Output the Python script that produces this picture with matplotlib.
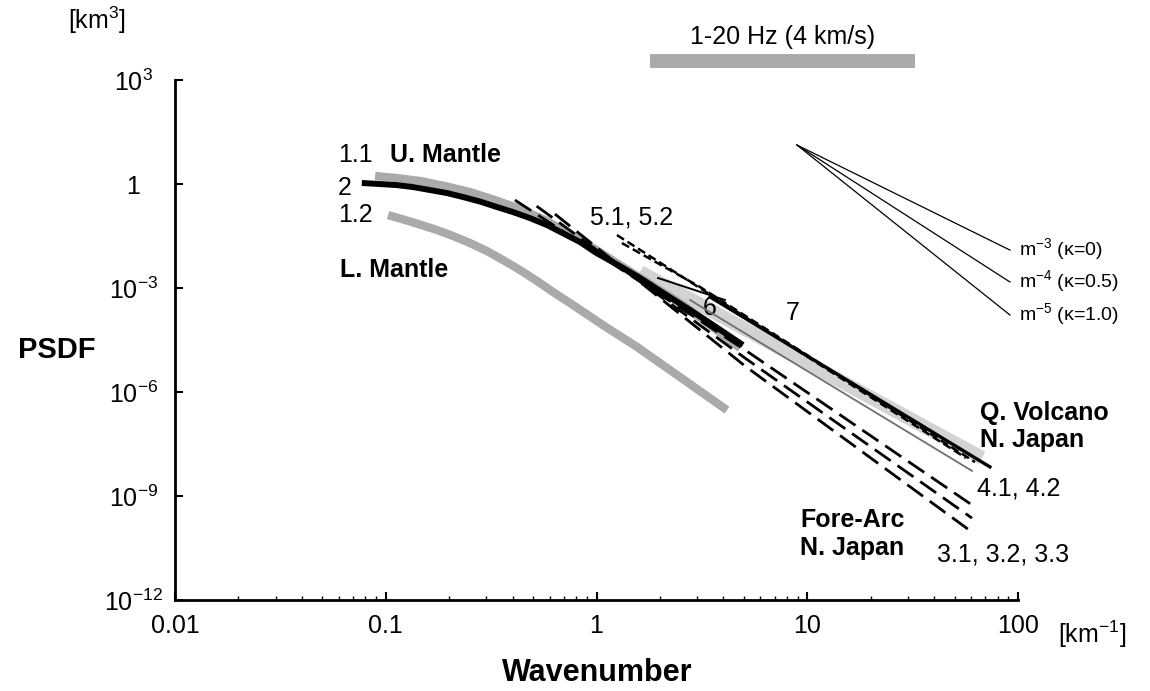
import numpy as np
import matplotlib.pyplot as plt
from matplotlib.ticker import LogLocator, NullLocator

plt.rcParams['font.family'] = ['Liberation Sans', 'DejaVu Sans']
plt.rcParams['mathtext.fontset'] = 'custom'
plt.rcParams['mathtext.rm'] = 'Liberation Sans'
plt.rcParams['mathtext.bf'] = 'Liberation Sans:bold'
plt.rcParams['lines.scale_dashes'] = False

# --- values (wavenumber km^-1, PSDF km^3) ---
# 1.1 upper mantle (gray)
k_11 = [0.089, 0.1131, 0.146, 0.191, 0.251, 0.330, 0.434, 0.570, 0.748, 0.984,
        1.29, 1.795, 2.49, 3.46, 4.80]
p_11 = [1.70, 1.486, 1.22, 0.873, 0.586, 0.344, 0.19, 0.0912, 0.036, 0.0133,
        4.6e-3, 1.30e-3, 3.7e-4, 8.55e-5, 1.85e-5]
# 1.2 lower mantle (gray)
k_12 = [0.1026, 0.1332, 0.175, 0.2085, 0.251, 0.302, 0.360, 0.4335, 0.522, 0.622,
        0.748, 1.07, 1.56, 2.49, 4.16]
p_12 = [0.127, 0.080, 0.047, 0.0316, 0.0198, 0.01164, 6.4e-3, 3.3e-3, 1.59e-3, 7.66e-4,
        3.7e-4, 8.6e-5, 1.98e-5, 2.7e-6, 3.0e-7]
# 2 (black thick)
k_2 = [0.077, 0.0939, 0.113, 0.1347, 0.162, 0.1953, 0.233, 0.280, 0.337, 0.4017, 0.483,
       0.582, 0.693, 0.835, 1.0, 1.265, 1.61, 2.11, 2.78, 3.69, 4.95]
p_2 = [1.07, 0.998, 0.93, 0.817, 0.67, 0.548, 0.42, 0.312, 0.216, 0.155, 0.104,
       0.0655, 0.038, 0.0212, 0.0102, 4.6e-3, 1.94e-3, 6.7e-4, 2.32e-4, 7.5e-5, 2.26e-5]
# 3.1, 3.2, 3.3 fore-arc N. Japan (long dashes)
k_31 = [0.41, 5.07, 60.5]
p_31 = [0.344, 1.63e-5, 5.5e-10]
k_32 = [0.52, 5.07, 60.5]
p_32 = [0.23, 9.5e-6, 2.3e-10]
k_33 = [0.635, 5.07, 60.5]
p_33 = [0.136, 5.6e-6, 9.1e-11]
# 4.x Q. volcano N. Japan (light band and thin gray line)
k_band = [1.61, 67.5]
p_band = [2.9e-3, 1.25e-8]
k_4 = [2.78, 60.5]
p_4 = [4.5e-4, 5.3e-9]
# 5.1, 5.2 (short dashes)
k_51 = [1.25, 56.6]
p_51 = [0.0337, 1.25e-8]
k_52 = [1.32, 3.10, 62.5]
p_52 = [0.0198, 1.07e-3, 9.5e-9]
# 6 (thin black) and 7 (black)
k_6 = [1.96, 4.07]
p_6 = [1.94e-3, 4.5e-4]
k_7 = [3.46, 73.6]
p_7 = [5.5e-4, 6.9e-9]
# reference slopes m^-3, m^-4, m^-5
k_slope = [8.94, 91.6]
p_m3 = [13.3, 0.0124]
p_m4 = [13.3, 1.49e-3]
p_m5 = [13.3, 1.66e-4]
# 1-20 Hz band at 4 km/s
k_freq = [1.79, 32.5]
p_freq = [3.5e3, 3.5e3]

y_ticks = [1e3, 1, 1e-3, 1e-6, 1e-9, 1e-12]
y_labels = [r'10$^{\mathregular{3}}$', '1', r'10$^{\mathregular{-3}}$', r'10$^{\mathregular{-6}}$',
            r'10$^{\mathregular{-9}}$', r'10$^{\mathregular{-12}}$']
x_ticks = [0.01, 0.1, 1, 10, 100]
x_labels = ['0.01', '0.1', '1', '10', '100']

fig = plt.figure(figsize=(11.5, 6.91), dpi=100)
ax = fig.add_axes([175/1150, 1-600/691, 843/1150, 520/691])
ax.set_xscale('log')
ax.set_yscale('log')
ax.set_xlim(0.01, 100)
ax.set_ylim(1e-12, 1e3)

gray = '#aaaaaa'
ax.plot(k_band, p_band, color='#d3d3d3', lw=10, solid_capstyle='butt', zorder=1)
ax.plot(k_11, p_11, color=gray, lw=6, solid_capstyle='butt', zorder=2)
ax.plot(k_12, p_12, color=gray, lw=6, solid_capstyle='butt', zorder=2)
ax.plot(k_2, p_2, color='black', lw=4.3, solid_capstyle='butt', zorder=3)
for kk, pp in [(k_31, p_31), (k_32, p_32), (k_33, p_33)]:
    ax.plot(kk, pp, color='black', lw=2, dashes=(14, 6), zorder=4)
ax.plot(k_4, p_4, color='#707070', lw=1.3, zorder=4)
ax.plot(k_51, p_51, color='black', lw=1.8, dashes=(6, 3), zorder=4)
ax.plot(k_52, p_52, color='black', lw=1.8, dashes=(6, 3), zorder=4)
ax.plot(k_6, p_6, color='black', lw=1.4, zorder=4)
ax.plot(k_7, p_7, color='black', lw=2.4, zorder=4)
for pp in [p_m3, p_m4, p_m5]:
    ax.plot(k_slope, pp, color='black', lw=0.9, zorder=4)
ax.plot(k_freq, p_freq, color=gray, lw=10, solid_capstyle='butt', clip_on=False)

# axes styling
for s in ['top', 'right']:
    ax.spines[s].set_visible(False)
for s in ['left', 'bottom']:
    ax.spines[s].set_linewidth(2)
ax.set_yticks(y_ticks)
ax.set_yticklabels(y_labels)
ax.yaxis.set_minor_locator(NullLocator())
ax.set_xticks(x_ticks)
ax.set_xticklabels(x_labels)
ax.xaxis.set_minor_locator(LogLocator(base=10, subs=np.arange(2, 10)))
ax.tick_params(which='major', direction='in', length=6, width=1.5, labelsize=18)
ax.tick_params(which='minor', direction='in', length=3, width=1)
ax.tick_params(axis='y', pad=30)
ax.tick_params(axis='x', pad=10)
for lab in ax.get_yticklabels():
    lab.set_horizontalalignment('center')

# labels
fs = 18
ax.text(0.0715, 6.84, '1.1', fontsize=fs, ha='center', va='center')
ax.text(0.1047, 6.84, 'U. Mantle', fontsize=fs, weight='bold', ha='left', va='center')
ax.text(0.064, 0.76, '2', fontsize=fs, ha='center', va='center')
ax.text(0.0715, 0.127, '1.2', fontsize=fs, ha='center', va='center')
ax.text(0.0607, 3.3e-3, 'L. Mantle', fontsize=fs, weight='bold', ha='left', va='center')
ax.text(0.93, 0.111, '5.1, 5.2', fontsize=fs, ha='left', va='center')
ax.text(3.46, 2.64e-4, '6', fontsize=fs, ha='center', va='center')
ax.text(8.56, 1.9e-4, '7', fontsize=fs, ha='center', va='center')
ax.text(66.1, 2.48e-7, 'Q. Volcano', fontsize=fs, weight='bold', ha='left', va='center', clip_on=False)
ax.text(66.1, 4.1e-8, 'N. Japan', fontsize=fs, weight='bold', ha='left', va='center', clip_on=False)
ax.text(63.9, 1.7e-9, '4.1, 4.2', fontsize=fs, ha='left', va='center', clip_on=False)
ax.text(9.24, 2.0e-10, 'Fore-Arc', fontsize=fs, weight='bold', ha='left', va='center')
ax.text(9.24, 3.2e-11, 'N. Japan', fontsize=fs, weight='bold', ha='left', va='center')
ax.text(41.3, 2.0e-11, '3.1, 3.2, 3.3', fontsize=fs, ha='left', va='center')
ax.text(k_slope[1] * 1.1, p_m3[1], r'm$^{\mathregular{-3}}$ (κ=0)', fontsize=14, ha='left', va='center')
ax.text(k_slope[1] * 1.1, p_m4[1], r'm$^{\mathregular{-4}}$ (κ=0.5)', fontsize=14, ha='left', va='center')
ax.text(k_slope[1] * 1.1, p_m5[1], r'm$^{\mathregular{-5}}$ (κ=1.0)', fontsize=14, ha='left', va='center')
ax.text(np.sqrt(k_freq[0] * k_freq[1]), p_freq[0] * 2.2, '1-20 Hz (4 km/s)', fontsize=fs,
        ha='center', va='bottom', clip_on=False)

fig.text(97/1150, 1-20/691, r'[km$^{\mathregular{3}}$]', fontsize=fs, ha='center', va='center')
fig.text(57/1150, 1-350/691, 'PSDF', fontsize=21, weight='bold', ha='center', va='center')
fig.text(597/1150, 1-673/691, 'Wavenumber', fontsize=22, weight='bold', ha='center', va='center')
fig.text(1058/1150, 1-634/691, r'[km$^{\mathregular{-1}}$]', fontsize=fs, ha='left', va='center')

fig.savefig('out.png', dpi=100)
